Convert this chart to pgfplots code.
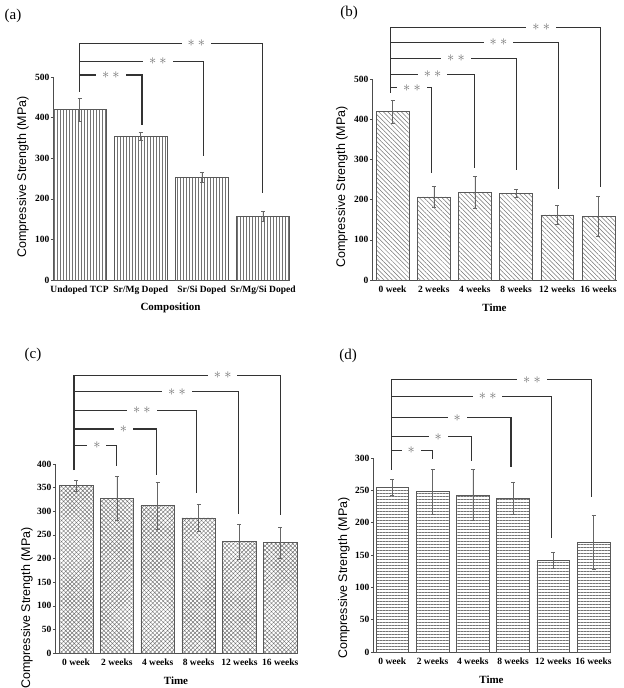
\documentclass[border=0pt]{standalone}
\usepackage{fontspec}
\setmainfont{Liberation Serif}
\newfontfamily\arial{Liberation Sans}
\usepackage{pgfplots}
\pgfplotsset{compat=1.18}
\usetikzlibrary{patterns.meta}

\pgfplotsset{
  panel/.style={
    scale only axis, clip=false,
    axis x line*=bottom, axis y line*=left,
    axis line style={black!70, line width=0.6bp},
    ymin=0,
    xtick={0,...,5},
    xtick style={draw=none},
    ytick style={black!70, line width=0.5bp},
    tick align=outside, major tick length=2bp,
    ytick pos=left,
    yticklabel style={font=\bfseries\fontsize{9.5bp}{9.5bp}\selectfont, inner sep=1.5bp},
    xticklabel style={font=\bfseries\fontsize{9.5bp}{9.5bp}\selectfont},
    /pgf/number format/assume math mode=true,
    xlabel style={font=\bfseries\fontsize{11bp}{11bp}\selectfont,
      at={(axis description cs:0.5,0)}, anchor=center, yshift=-28bp},
    ylabel style={font=\arial\fontsize{12.5bp}{12.5bp}\selectfont, anchor=center},
  },
  bars/.style={ybar, bar shift=0pt, draw=black!65, line width=0.55bp,
    pattern color=black!55,
    error bars/y dir=both, error bars/y explicit,
    error bars/error bar style={black!60, line width=0.5bp},
    error bars/error mark options={rotate=90, black!60, mark size=2bp, line width=0.5bp}},
}
\tikzset{
  brk/.style={black!80, line width=1.1bp},
  st/.style={fill=white, inner xsep=6bp, inner ysep=1bp, text=black!55,
    font=\fontsize{14bp}{14bp}\selectfont},
}
\newcommand{\sone}{${\ast}$}
\newcommand{\stwo}{${\ast}\mkern4mu{\ast}$}

\begin{document}
\begin{tikzpicture}
\useasboundingbox (0,0) rectangle (624bp,-688bp);

% (a) composition
\begin{axis}[panel, at={(53bp,-280bp)}, anchor=south west,
  width=235bp, height=203bp,
  xmin=-0.436, xmax=3.41, ymax=500, ytick={0,100,...,500},
  xtick={0,...,3},
  xticklabels={Undoped TCP, Sr/Mg Doped, Sr/Si Doped, Sr/Mg/Si Doped},
  xlabel={Composition}, ylabel={Compressive Strength (MPa)},
  ylabel style={at={([xshift=-30bp]axis description cs:0,0.507)}}]
\addplot[bars, bar width=0.87, pattern={Lines[angle=90,distance=3bp,line width=0.5bp]}]
  coordinates {(0,420) +- (0,28) (1,353) +- (0,10) (2,253) +- (0,12) (3,157) +- (0,13)};
\draw[brk] (axis cs:0,464) -- (axis cs:0,583) -- (axis cs:3,583) -- (axis cs:3,215);
\draw[brk] (axis cs:0,539) -- (axis cs:2.02,539) -- (axis cs:2.02,305);
\draw[brk] (axis cs:0,505) -- (axis cs:1.02,505) -- (axis cs:1.02,382);
\node[st] at (axis cs:1.91,583) {\stwo};
\node[st] at (axis cs:1.28,539) {\stwo};
\node[st] at (axis cs:0.51,505) {\stwo};
\end{axis}

% (b)
\begin{axis}[panel, at={(372bp,-280bp)}, anchor=south west,
  width=245bp, height=201bp,
  xmin=-0.5, xmax=5.45, ymax=500, ytick={0,100,...,500},
  xticklabels={0 week, 2 weeks, 4 weeks, 8 weeks, 12 weeks, 16 weeks},
  xlabel={Time}, ylabel={Compressive Strength (MPa)},
  ylabel style={at={([xshift=-30bp]axis description cs:0,0.463)}}]
\addplot[bars, bar width=0.8, pattern={Lines[angle=-45,distance=3.2bp,line width=0.5bp]}]
  coordinates {(0,419) +- (0,28) (1,207) +- (0,25) (2,218) +- (0,39)
               (3,216) +- (0,9) (4,162) +- (0,23) (5,158) +- (0,50)};
\draw[brk] (axis cs:-0.04,466) -- (axis cs:-0.04,629) -- (axis cs:5.04,629) -- (axis cs:5.04,232);
\draw[brk] (axis cs:-0.04,591) -- (axis cs:4.03,591) -- (axis cs:4.03,226);
\draw[brk] (axis cs:-0.04,551) -- (axis cs:3.02,551) -- (axis cs:3.02,274);
\draw[brk] (axis cs:-0.04,512) -- (axis cs:2.0,512) -- (axis cs:2.0,278);
\draw[brk] (axis cs:-0.04,478) -- (axis cs:0.95,478) -- (axis cs:0.95,267);
\node[st] at (axis cs:3.61,629) {\stwo};
\node[st] at (axis cs:2.57,591) {\stwo};
\node[st] at (axis cs:1.54,551) {\stwo};
\node[st] at (axis cs:0.97,512) {\stwo};
\node[st] at (axis cs:0.47,478) {\stwo};
\end{axis}

% (c)
\begin{axis}[panel, at={(55bp,-653bp)}, anchor=south west,
  width=242bp, height=189bp,
  xmin=-0.515, xmax=5.41, ymax=400, ytick={0,50,...,400},
  xticklabels={0 week, 2 weeks, 4 weeks, 8 weeks, 12 weeks, 16 weeks},
  xlabel={Time}, ylabel={Compressive Strength (MPa)},
  ylabel style={at={([xshift=-28bp]axis description cs:0,0.238)}}]
\addplot[bars, bar width=0.82, pattern={Hatch[angle=45,distance=3bp,line width=0.45bp]}]
  coordinates {(0,354) +- (0,12) (1,328) +- (0,46) (2,312) +- (0,50)
               (3,286) +- (0,28) (4,236) +- (0,37) (5,234) +- (0,33)};
\draw[brk] (axis cs:-0.05,387) -- (axis cs:-0.05,587) -- (axis cs:5.0,587) -- (axis cs:5.0,293);
\draw[brk] (axis cs:-0.05,553) -- (axis cs:3.98,553) -- (axis cs:3.98,294);
\draw[brk] (axis cs:-0.05,514) -- (axis cs:2.94,514) -- (axis cs:2.94,339);
\draw[brk] (axis cs:-0.05,474) -- (axis cs:1.98,474) -- (axis cs:1.98,377);
\draw[brk] (axis cs:-0.05,440) -- (axis cs:1.0,440) -- (axis cs:1.0,395);
\node[st] at (axis cs:3.59,587) {\stwo};
\node[st] at (axis cs:2.47,553) {\stwo};
\node[st] at (axis cs:1.61,514) {\stwo};
\node[st] at (axis cs:1.16,474) {\sone};
\node[st] at (axis cs:0.51,440) {\sone};
\end{axis}

% (d)
\begin{axis}[panel, at={(373bp,-652bp)}, anchor=south west,
  width=237bp, height=194bp,
  xmin=-0.48, xmax=5.41, ymax=300, ytick={0,50,...,300},
  xticklabels={0 week, 2 weeks, 4 weeks, 8 weeks, 12 weeks, 16 weeks},
  xlabel={Time}, ylabel={Compressive Strength (MPa)},
  ylabel style={at={([xshift=-29bp]axis description cs:0,0.381)}}]
\addplot[bars, bar width=0.81, pattern={Lines[angle=0,distance=3bp,line width=0.5bp]}]
  coordinates {(0,255) +- (0,12) (1,248) +- (0,35) (2,243) +- (0,40)
               (3,238) +- (0,25) (4,142) +- (0,12) (5,170) +- (0,42)};
\draw[brk] (axis cs:-0.03,282) -- (axis cs:-0.03,421) -- (axis cs:4.95,421) -- (axis cs:4.95,240);
\draw[brk] (axis cs:-0.03,395) -- (axis cs:3.96,395) -- (axis cs:3.96,176);
\draw[brk] (axis cs:-0.03,362) -- (axis cs:2.95,362) -- (axis cs:2.95,286);
\draw[brk] (axis cs:-0.03,333) -- (axis cs:1.96,333) -- (axis cs:1.96,296);
\draw[brk] (axis cs:-0.03,312) -- (axis cs:0.99,312) -- (axis cs:0.99,299);
\node[st] at (axis cs:3.47,421) {\stwo};
\node[st] at (axis cs:2.37,395) {\stwo};
\node[st] at (axis cs:1.61,362) {\sone};
\node[st] at (axis cs:1.14,333) {\sone};
\node[st] at (axis cs:0.47,312) {\sone};
\end{axis}

% panel letters
\node[font=\fontsize{15bp}{15bp}\selectfont] at (13bp,-16bp) {(a)};
\node[font=\fontsize{15bp}{15bp}\selectfont] at (349bp,-13bp) {(b)};
\node[font=\fontsize{15bp}{15bp}\selectfont] at (33bp,-355bp) {(c)};
\node[font=\fontsize{15bp}{15bp}\selectfont] at (348bp,-356bp) {(d)};
\end{tikzpicture}
\end{document}
